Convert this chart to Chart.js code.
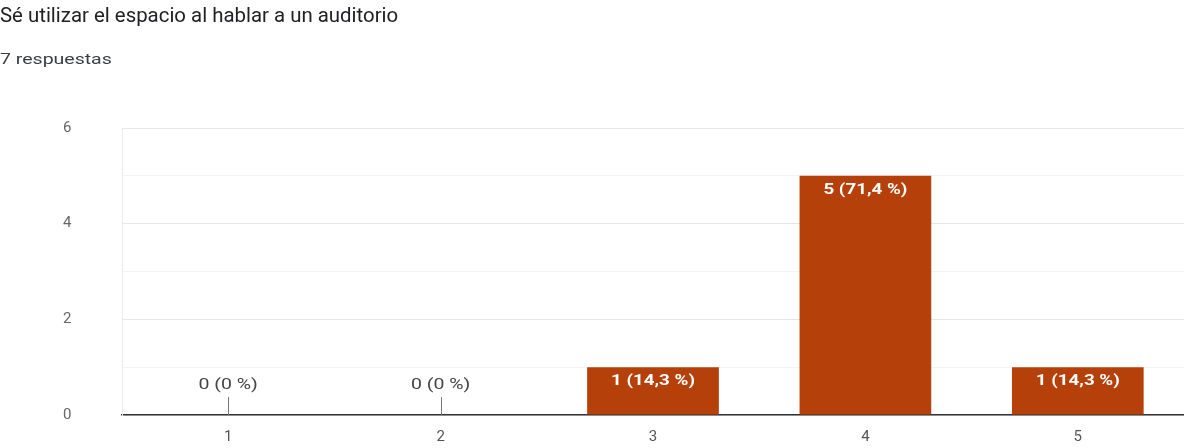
<!DOCTYPE html>
<html>
<head>
<meta charset="utf-8">
<script src="https://cdn.jsdelivr.net/npm/chart.js@4"></script>
<style>
  body { margin: 0; background: #fff; font-family: Roboto, Arial, sans-serif; }
  #wrap { position: relative; width: 1184px; height: 448px; overflow: hidden; }
  #title { position: absolute; left: 0; top: 3px; font-size: 20px; color: #202124; transform: scaleX(1.02); transform-origin: left; }
  #sub { position: absolute; left: 0; top: 50px; font-size: 15px; color: #3c4043; transform: scaleX(1.3); transform-origin: left; }
  canvas { position: absolute; left: 0; top: 0; }
</style>
</head>
<body>
<div id="wrap">
  <canvas id="chart" width="1184" height="448"></canvas>
  <div id="title">Sé utilizar el espacio al hablar a un auditorio</div>
  <div id="sub"></div>
</div>
<script>
// respuestas por opción
const categories = ['1', '2', '3', '4', '5'];
const counts = [0, 0, 1, 5, 1];
const yTicks = [0, 2, 4, 6];

const total = counts.reduce((a, b) => a + b, 0);
document.getElementById('sub').innerText = total + ' respuestas';

const pctLabel = function(v) {
  const p = total ? (v / total * 100) : 0;
  const txt = (v === 0) ? '0' : p.toFixed(1).replace('.', ',');
  return `${v} (${txt} %)`;
};

// texto algo ensanchado, como en el formulario
const wideText = function(ctx, txt, x, y, sx) {
  ctx.save();
  ctx.translate(x, y);
  ctx.scale(sx, 1);
  ctx.fillText(txt, 0, 0);
  ctx.restore();
};

// etiquetas encima / dentro de cada barra
const barLabels = {
  id: 'barLabels',
  afterDatasetsDraw(chart) {
    const ctx = chart.ctx;
    const meta = chart.getDatasetMeta(0);
    const yZero = chart.scales.y.getPixelForValue(0);
    ctx.save();
    ctx.textAlign = 'center';
    ctx.textBaseline = 'middle';
    meta.data.forEach((bar, i) => {
      const v = counts[i];
      if (v === 0) {
        ctx.strokeStyle = '#777';
        ctx.lineWidth = 1;
        ctx.beginPath();
        ctx.moveTo(Math.round(bar.x) + 0.5, yZero - 18);
        ctx.lineTo(Math.round(bar.x) + 0.5, yZero);
        ctx.stroke();
        ctx.fillStyle = '#444';
        ctx.font = '15px Roboto, Arial, sans-serif';
        wideText(ctx, pctLabel(v), bar.x, yZero - 30, 1.3);
      } else {
        ctx.fillStyle = '#fff';
        ctx.font = 'bold 15px Roboto, Arial, sans-serif';
        wideText(ctx, pctLabel(v), bar.x, bar.y + 14, 1.25);
      }
    });
    ctx.restore();
  }
};

const ctx = document.getElementById('chart').getContext('2d');
const chart = new Chart(ctx, {
  type: 'bar',
  data: {
    labels: categories,
    datasets: [{
      data: counts,
      backgroundColor: '#b5400a',
      categoryPercentage: 1,
      barPercentage: 0.62
    }]
  },
  options: {
    responsive: false,
    animation: false,
    layout: { padding: { top: 128, left: 63, right: 0, bottom: 0 } },
    plugins: { legend: { display: false }, tooltip: { enabled: false } },
    scales: {
      x: {
        grid: { display: false, drawTicks: false },
        border: { color: '#333', width: 1.5 },
        ticks: { color: '#555', font: { family: 'Roboto', size: 15 }, padding: 13 },
        afterFit(scale) { scale.height = 33; }
      },
      y: {
        min: 0,
        max: 6,
        ticks: {
          stepSize: 1,
          padding: 0,
          crossAlign: 'far',
          color: '#666',
          font: { family: 'Roboto', size: 15 },
          callback: (v) => yTicks.includes(v) ? v : ''
        },
        grid: {
          drawTicks: false,
          color: (c) => (c.tick.value % 2 === 0) ? '#e6e6e6' : '#f3f3f3'
        },
        border: { color: '#ececec' },
        afterFit(scale) { scale.width = 59; }
      }
    }
  },
  plugins: [barLabels]
});
</script>
</body>
</html>
